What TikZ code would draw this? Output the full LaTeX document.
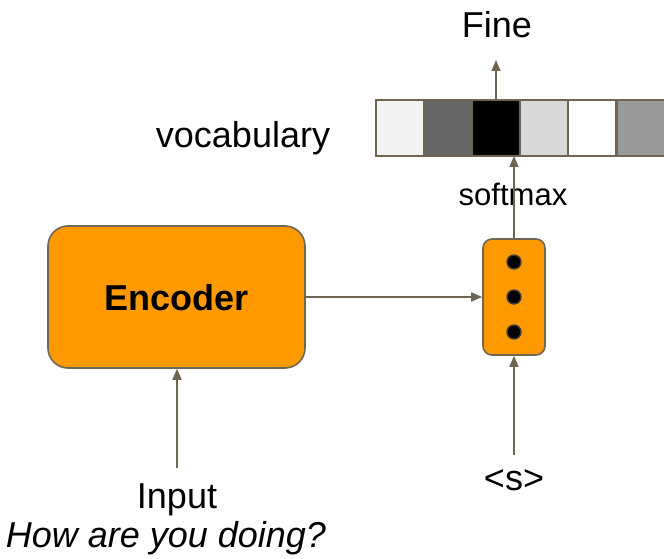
\documentclass[tikz,border=0pt]{standalone}
\usepackage{fontspec}
\setmainfont{Liberation Sans}
\usetikzlibrary{arrows.meta}

\definecolor{edge}{HTML}{6E6552}
\definecolor{boxfill}{HTML}{FF9900}

\tikzset{
  txt/.style={inner sep=0pt, anchor=base, font=\fontsize{36}{40}\selectfont},
  smalltxt/.style={inner sep=0pt, anchor=base, font=\fontsize{31}{35}\selectfont},
  arr/.style={draw=edge, line width=1.6pt, -{Triangle[length=11pt,width=9pt]}},
  cell/.style={draw=edge, line width=1.8pt, minimum width=48pt, minimum height=56pt, inner sep=0pt, outer sep=0pt},
  block/.style={draw=edge, line width=1.6pt, fill=boxfill, inner sep=0pt},
  dot/.style={circle, fill=black, draw=edge!60!black, line width=1.4pt, minimum size=14pt, inner sep=0pt}
}

\begin{document}
\begin{tikzpicture}[x=1pt,y=-1pt]
\clip (0,0) rectangle (664,559);
\fill[white] (0,0) rectangle (664,559);

% vocabulary distribution
\node[cell, fill={rgb,255:red,243;green,243;blue,243}] (v1) at (400,128) {};
\node[cell, fill={rgb,255:red,102;green,102;blue,102}] (v2) at (448,128) {};
\node[cell, fill=black] (v3) at (496,128) {};
\node[cell, fill={rgb,255:red,217;green,217;blue,217}] (v4) at (544,128) {};
\node[cell, fill=white] (v5) at (592,128) {};
\node[cell, fill={rgb,255:red,153;green,153;blue,153}] (v6) at (641,128) {};
\node[txt] (vocab) at (243,148) {vocabulary};

% encoder
\node[block, rounded corners=20pt, minimum width=257pt, minimum height=142pt] (enc) at (176.5,297) {};
\node[txt, font=\fontsize{36}{40}\selectfont\bfseries] (enclabel) at (176.5,310) {Encoder};

% decoder state
\node[block, rounded corners=9pt, minimum width=62pt, minimum height=116pt] (dec) at (514,297) {};
\node[dot] (d1) at (514,262) {};
\node[dot] (d2) at (514,297) {};
\node[dot] (d3) at (514,332) {};

% labels
\node[txt] (fine) at (497,38) {Fine};
\node[smalltxt] (softmax) at (513,205) {softmax};
\node[txt] (start) at (514,490) {<s>};
\node[txt] (input) at (177,508) {Input};
\node[txt, font=\fontsize{36}{40}\selectfont\itshape] (sentence) at (166,547) {How are you doing?};

% free ends of the arrows
\coordinate (fineTip) at (496,60);
\coordinate (inTail) at (177,468);
\coordinate (sTail) at (514,455);

% connectors
\draw[arr] (v3.north) -- (fineTip);
\draw[arr] (dec.north) -- (dec.north |- v3.south);
\draw[arr] (enc.east) -- (dec.west);
\draw[arr] (inTail) -- (enc.south -| inTail);
\draw[arr] (sTail) -- (dec.south);
\end{tikzpicture}
\end{document}
